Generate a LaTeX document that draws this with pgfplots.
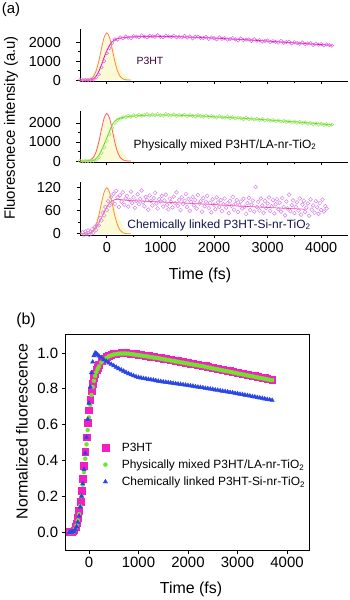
\documentclass[border=0pt]{standalone}
\usepackage{fontspec}
\setmainfont{Liberation Sans}
\usepackage{pgfplots}
\usepackage{pgfplotstable}
\pgfplotsset{compat=1.18}
\definecolor{pkcirc}{RGB}{225,100,225}
\definecolor{pkline}{RGB}{230,0,190}
\definecolor{grcirc}{RGB}{150,230,90}
\definecolor{grline}{RGB}{90,210,40}
\definecolor{chcirc}{RGB}{215,130,235}
\definecolor{chline}{RGB}{255,60,150}
\definecolor{irfA}{RGB}{255,130,70}
\definecolor{irfB}{RGB}{255,90,100}
\definecolor{irfC}{RGB}{255,140,40}
\definecolor{paley}{RGB}{250,250,215}
\definecolor{pinkB}{RGB}{245,30,195}
\definecolor{greenB}{RGB}{110,230,40}
\definecolor{blueB}{RGB}{40,70,230}

\pgfplotstableread{
x p g b
-400 0.000 0.000 0.000
-375 0.000 0.000 0.000
-350 0.000 0.000 0.000
-325 0.005 0.000 0.002
-300 0.010 0.005 0.005
-275 0.030 0.020 0.015
-250 0.050 0.040 0.030
-225 0.080 0.065 0.055
-200 0.120 0.100 0.090
-175 0.170 0.145 0.140
-150 0.230 0.200 0.200
-125 0.300 0.265 0.270
-100 0.370 0.335 0.350
-75 0.450 0.410 0.440
-50 0.530 0.490 0.530
-25 0.610 0.570 0.630
0 0.680 0.640 0.720
25 0.740 0.710 0.810
50 0.790 0.765 0.890
75 0.830 0.810 0.950
100 0.860 0.845 0.985
125 0.885 0.872 1.000
150 0.905 0.893 0.996
175 0.920 0.910 0.990
200 0.935 0.925 0.984
250 0.955 0.947 0.973
300 0.968 0.962 0.963
350 0.978 0.973 0.954
400 0.986 0.981 0.945
450 0.992 0.987 0.937
500 0.996 0.991 0.929
550 0.998 0.994 0.921
600 0.999 0.996 0.913
650 1.000 0.997 0.906
700 1.000 0.997 0.899
750 1.000 0.997 0.892
800 0.999 0.996 0.885
850 0.998 0.994 0.879
900 0.996 0.992 0.873
950 0.994 0.990 0.868
1000 0.992 0.988 0.864
1050 0.990 0.986 0.861
1100 0.988 0.984 0.858
1150 0.986 0.982 0.856
1200 0.984 0.980 0.853
1250 0.981 0.977 0.851
1300 0.979 0.975 0.849
1350 0.977 0.973 0.846
1400 0.975 0.971 0.843
1450 0.972 0.968 0.841
1500 0.970 0.966 0.839
1550 0.967 0.963 0.837
1600 0.965 0.961 0.835
1650 0.962 0.958 0.833
1700 0.960 0.956 0.831
1750 0.957 0.953 0.829
1800 0.955 0.951 0.827
1850 0.952 0.948 0.825
1900 0.950 0.946 0.823
1950 0.947 0.943 0.821
2000 0.945 0.941 0.819
2050 0.942 0.938 0.817
2100 0.940 0.936 0.815
2150 0.937 0.933 0.812
2200 0.935 0.931 0.810
2250 0.932 0.928 0.808
2300 0.930 0.926 0.806
2350 0.927 0.923 0.803
2400 0.924 0.920 0.801
2450 0.921 0.917 0.799
2500 0.918 0.914 0.797
2550 0.915 0.911 0.794
2600 0.913 0.909 0.792
2650 0.910 0.906 0.790
2700 0.907 0.903 0.787
2750 0.904 0.900 0.785
2800 0.902 0.898 0.783
2850 0.899 0.895 0.780
2900 0.896 0.892 0.778
2950 0.893 0.889 0.775
3000 0.890 0.886 0.773
3050 0.887 0.883 0.770
3100 0.885 0.881 0.768
3150 0.882 0.878 0.765
3200 0.879 0.875 0.763
3250 0.876 0.872 0.760
3300 0.874 0.870 0.757
3350 0.871 0.867 0.755
3400 0.868 0.864 0.752
3450 0.865 0.861 0.749
3500 0.863 0.859 0.747
3550 0.860 0.856 0.744
3600 0.857 0.853 0.741
3650 0.854 0.850 0.739
3700 0.852 0.848 0.736
}\normdata

\newcommand{\fsTick}{\fontsize{14.5}{16}\selectfont}
\newcommand{\fsTickB}{\fontsize{15}{17}\selectfont}

\pgfplotsset{
  pa/.style={
    scale only axis, width=268bp, xmin=-500, xmax=4500,
    axis x line=bottom, axis y line=left,
    axis line style={line width=0.9pt,-},
    tick align=outside, major tick length=3.5bp, minor tick length=2bp,
    xtick={0,1000,2000,3000,4000}, minor x tick num=1, minor y tick num=1,
    every tick/.style={line width=0.8pt, black},
    ticklabel style={font=\fsTick},
    /pgf/number format/assume math mode=true,
    /pgf/number format/1000 sep={},
    yticklabel style={xshift=-12bp},
  },
}

\begin{document}
\begin{tikzpicture}
\path[use as bounding box] (0,0) rectangle (350bp,600bp);

% ---------- panel (a) top: P3HT
\begin{axis}[pa, at={(80bp,519bp)}, anchor=south west, height=52bp,
  ymin=-50, ymax=2700, ytick={0,1000,2000}, xticklabels={}]
\addplot[draw=none, fill=paley] coordinates {(-350,0)(-250,300)(-150,1100)(-50,2100)(0,2400)(100,1900)(200,1000)(300,400)(400,100)(480,0)} \closedcycle;
\addplot[only marks, mark=o, mark size=1.7bp, pkcirc, mark options={line width=0.5pt}] coordinates {
(-500,10)(-450,-5)(-400,15)(-350,5)(-300,20)(-250,30)(-200,140)(-150,300)(-100,670)(-50,1000)
(0,1420)(50,1690)(100,1960)(150,2150)(200,2140)(250,2260)(300,2200)(350,2300)(400,2240)(450,2220)
(500,2320)(550,2300)(600,2260)(650,2360)(700,2300)(750,2250)(800,2340)(850,2310)(900,2290)(950,2370)
(1000,2280)(1050,2260)(1100,2340)(1150,2310)(1200,2280)(1250,2350)(1300,2260)(1350,2290)(1400,2250)(1450,2330)
(1500,2240)(1550,2310)(1600,2200)(1650,2290)(1700,2300)(1750,2230)(1800,2220)(1850,2280)(1900,2170)(1950,2250)
(2000,2210)(2050,2150)(2100,2260)(2150,2180)(2200,2210)(2250,2140)(2300,2170)(2350,2220)(2400,2150)(2450,2100)
(2500,2200)(2550,2110)(2600,2140)(2650,2150)(2700,2060)(2750,2160)(2800,2080)(2850,2110)(2900,2040)(2950,2070)
(3000,2100)(3050,2010)(3100,2060)(3150,2020)(3200,1980)(3250,2070)(3300,1970)(3350,2010)(3400,2030)(3450,1930)
(3500,2000)(3550,1960)(3600,1920)(3650,1990)(3700,1900)(3750,1940)(3800,1950)(3850,1860)(3900,1920)(3950,1870)
(4000,1900)(4050,1830)(4100,1880)(4150,1850)(4200,1820)};
\addplot[pkline, line width=0.8pt, smooth] coordinates {
(-500,0)(-300,0)(-250,60)(-200,200)(-150,450)(-100,800)(-50,1200)(0,1550)(50,1830)(100,2020)(150,2130)(200,2190)(300,2240)(400,2268)(600,2298)(800,2310)(1000,2310)(1200,2300)(1400,2285)(1600,2265)(1800,2245)(2000,2220)(2200,2190)(2400,2160)(2600,2130)(2800,2095)(3000,2060)(3200,2020)(3400,1985)(3600,1945)(3800,1910)(4000,1875)(4200,1840)};
\addplot[irfA, line width=0.8pt, smooth] coordinates {
(-500,0)(-450,0)(-400,3)(-350,16)(-300,61)(-250,189)(-200,479)(-150,987)(-100,1654)(-50,2255)(0,2500)(50,2255)(100,1654)(150,987)(200,479)(250,189)(300,61)(350,16)(400,3)(450,0)};
\end{axis}

% ---------- panel (a) middle: physically mixed
\begin{axis}[pa, at={(80bp,438bp)}, anchor=south west, height=51bp,
  ymin=-50, ymax=2630, ytick={0,1000,2000}, xticklabels={}]
\addplot[draw=none, fill=paley] coordinates {(-350,0)(-250,300)(-150,1100)(-50,2100)(0,2400)(100,1900)(200,1000)(300,400)(400,100)(480,0)} \closedcycle;
\addplot[only marks, mark=o, mark size=1.7bp, grcirc, mark options={line width=0.5pt}] coordinates {
(-500,5)(-450,-10)(-400,10)(-350,0)(-300,15)(-250,20)(-200,70)(-150,200)(-100,420)(-50,720)
(0,1060)(50,1400)(100,1760)(150,2000)(200,2150)(250,2230)(300,2300)(350,2290)(400,2380)(450,2330)
(500,2400)(550,2350)(600,2430)(650,2380)(700,2410)(750,2460)(800,2390)(850,2440)(900,2400)(950,2470)
(1000,2410)(1050,2380)(1100,2460)(1150,2420)(1200,2390)(1250,2450)(1300,2370)(1350,2420)(1400,2390)(1450,2440)
(1500,2350)(1550,2420)(1600,2380)(1650,2340)(1700,2410)(1750,2360)(1800,2330)(1850,2390)(1900,2310)(1950,2370)
(2000,2320)(2050,2290)(2100,2360)(2150,2300)(2200,2280)(2250,2330)(2300,2260)(2350,2300)(2400,2240)(2450,2290)
(2500,2250)(2550,2210)(2600,2270)(2650,2200)(2700,2230)(2750,2180)(2800,2220)(2850,2160)(2900,2200)(2950,2130)
(3000,2170)(3050,2120)(3100,2150)(3150,2090)(3200,2130)(3250,2070)(3300,2110)(3350,2060)(3400,2090)(3450,2030)
(3500,2070)(3550,2010)(3600,2050)(3650,1990)(3700,2030)(3750,1970)(3800,2010)(3850,1940)(3900,1980)(3950,1920)
(4000,1960)(4050,1900)(4100,1940)(4150,1880)(4200,1910)};
\addplot[grline, line width=0.8pt, smooth] coordinates {
(-500,0)(-300,0)(-250,30)(-200,120)(-150,300)(-100,560)(-50,880)(0,1210)(50,1560)(100,1900)(150,2100)(200,2200)(300,2290)(400,2340)(600,2390)(800,2415)(1000,2420)(1200,2415)(1400,2400)(1600,2385)(1800,2360)(2000,2330)(2200,2300)(2400,2270)(2600,2235)(2800,2200)(3000,2160)(3200,2120)(3400,2080)(3600,2040)(3800,1995)(4000,1950)(4200,1900)};
\addplot[irfB, line width=0.8pt, smooth] coordinates {
(-500,0)(-450,0)(-400,3)(-350,16)(-300,61)(-250,189)(-200,479)(-150,987)(-100,1654)(-50,2255)(0,2500)(50,2255)(100,1654)(150,987)(200,479)(250,189)(300,61)(350,16)(400,3)(450,0)};
\end{axis}

% ---------- panel (a) bottom: chemically linked
\begin{axis}[pa, at={(80bp,365bp)}, anchor=south west, height=53bp,
  ymin=-3, ymax=135, ytick={0,60,120}]
\addplot[draw=none, fill=paley] coordinates {(-350,0)(-250,14)(-150,53)(-50,100)(0,115)(100,91)(200,48)(300,19)(400,5)(480,0)} \closedcycle;
\addplot[only marks, mark=o, mark size=1.9bp, chcirc, mark options={line width=0.5pt}] coordinates {
(-450,4)(-425,-2)(-400,6)(-375,1)(-350,9)(-325,-3)(-300,5)(-275,12)(-250,2)(-225,18)
(-200,10)(-175,25)(-150,22)(-125,41)(-100,35)(-75,55)(-50,48)(-25,70)(0,62)(25,85)
(50,74)(75,96)(100,82)(125,104)(150,78)(175,112)(200,95)(225,70)(250,101)(275,84)
(300,108)(325,76)(350,92)(375,99)(400,71)(425,88)(450,110)(475,80)(500,95)(525,68)
(550,86)(575,103)(600,77)(625,91)(650,113)(675,82)(700,72)(725,96)(750,88)(775,63)
(800,100)(825,85)(850,74)(875,93)(900,107)(925,79)(950,66)(975,90)(1000,84)(1025,99)
(1050,71)(1075,87)(1100,102)(1125,76)(1150,64)(1175,92)(1200,83)(1225,69)(1250,97)(1275,80)
(1300,108)(1325,73)(1350,88)(1375,62)(1400,95)(1425,78)(1450,86)(1475,104)(1500,70)(1525,91)
(1550,60)(1575,83)(1600,96)(1625,74)(1650,88)(1675,66)(1700,101)(1725,79)(1750,85)(1775,58)
(1800,93)(1825,72)(1850,84)(1875,99)(1900,67)(1925,81)(1950,56)(1975,90)(2000,76)(2025,64)
(2050,95)(2075,82)(2100,70)(2125,88)(2150,59)(2175,77)(2200,92)(2225,68)(2250,80)(2275,54)
(2300,86)(2325,73)(2350,96)(2375,63)(2400,78)(2425,88)(2450,57)(2475,75)(2500,84)(2525,66)
(2550,91)(2575,71)(2600,52)(2625,80)(2650,94)(2675,62)(2700,76)(2725,87)(2750,58)(2775,122)
(2800,70)(2825,83)(2850,61)(2875,92)(2900,74)(2925,55)(2950,86)(2975,67)(3000,79)(3025,95)
(3050,60)(3075,72)(3100,88)(3125,53)(3150,77)(3175,90)(3200,64)(3225,81)(3250,58)(3275,93)
(3300,70)(3325,48)(3350,84)(3375,66)(3400,102)(3425,59)(3450,75)(3475,87)(3500,54)(3525,70)
(3550,82)(3575,61)(3600,92)(3625,50)(3650,76)(3675,86)(3700,57)(3725,68)(3750,79)(3775,47)
(3800,90)(3825,63)(3850,74)(3875,55)(3900,85)(3925,69)(3950,52)(3975,80)(4000,62)(4025,89)
(4050,58)(4075,72)(4100,66)};
\addplot[chline, line width=0.7pt, smooth] coordinates {
(-500,0)(-350,0)(-300,3)(-250,8)(-200,16)(-150,28)(-100,42)(-50,57)(0,70)(50,80)(100,86)(150,89)(200,90)(400,87)(700,85)(1000,83)(1300,81)(1600,79)(1900,77)(2200,74.5)(2500,72)(2800,70)(3100,68)(3400,66)(3700,64)};
\addplot[irfC, line width=0.8pt, smooth] coordinates {
(-500,0)(-450,0)(-400,0.2)(-350,0.8)(-300,2.9)(-250,9.1)(-200,23)(-150,47.4)(-100,79.4)(-50,108.2)(0,120)(50,108.2)(100,79.4)(150,47.4)(200,23)(250,9.1)(300,2.9)(350,0.8)(400,0.2)(450,0)};
\end{axis}

% labels panel (a)
\node[font=\fontsize{15}{17}\selectfont] at (11bp,590bp) {(a)};
\node[rotate=90, font=\fontsize{15}{17}\selectfont] at (11bp,472bp) {Fluorescnece intensity (a.u)};
\node[font=\fontsize{16}{18}\selectfont] at (200bp,325bp) {Time (fs)};
\node[font=\fontsize{10.5}{12}\selectfont, text={rgb,255:red,60;green,0;blue,60}] at (150bp,539bp) {P3HT};
\node[font=\fontsize{12}{14}\selectfont] at (225bp,455bp) {Physically mixed P3HT/LA-nr-TiO\textsubscript{2}};
\node[font=\fontsize{12}{14}\selectfont, text={rgb,255:red,20;green,20;blue,80}] at (219bp,375bp) {Chemically linked P3HT-Si-nr-TiO\textsubscript{2}};

% ---------- panel (b)
\begin{axis}[at={(65.7bp,50bp)}, anchor=south west, scale only axis,
  width=243.6bp, height=216bp,
  xmin=-470, xmax=4450, ymin=-0.1, ymax=1.106,
  xtick={0,1000,2000,3000,4000}, ytick={0,0.2,0.4,0.6,0.8,1.0},
  axis line style={line width=0.8pt},
  tick align=outside, tick pos=left, major tick length=4bp,
  every tick/.style={line width=0.8pt, black},
  ticklabel style={font=\fsTickB},
  /pgf/number format/assume math mode=true,
  /pgf/number format/1000 sep={},
  yticklabel style={/pgf/number format/fixed, /pgf/number format/fixed zerofill, /pgf/number format/precision=1},
  legend style={at={(0.136,0.516)}, anchor=north west, draw=none, fill=none,
    font=\fontsize{12}{14}\selectfont, row sep=3bp,
    /tikz/every odd column/.append style={column sep=11bp}},
  legend cell align=left]
\addplot[only marks, mark=square*, mark size=3.4bp, pinkB] table[x=x, y=p] {\normdata};
\addlegendentry{P3HT}
\addplot[only marks, mark=*, mark size=2bp, greenB] table[x=x, y=g] {\normdata};
\addlegendentry{Physically mixed P3HT/LA-nr-TiO\textsubscript{2}}
\addplot[only marks, mark=triangle*, mark size=2.5bp, blueB] table[x=x, y=b] {\normdata};
\addlegendentry{Chemically linked P3HT-Si-nr-TiO\textsubscript{2}}
\end{axis}

\node[font=\fontsize{16}{18}\selectfont] at (26bp,280bp) {(b)};
\node[rotate=90, font=\fontsize{16}{18}\selectfont] at (22bp,168.5bp) {Normalized fluorescence};
\node[font=\fontsize{16}{18}\selectfont] at (191bp,11bp) {Time (fs)};
\end{tikzpicture}
\end{document}
